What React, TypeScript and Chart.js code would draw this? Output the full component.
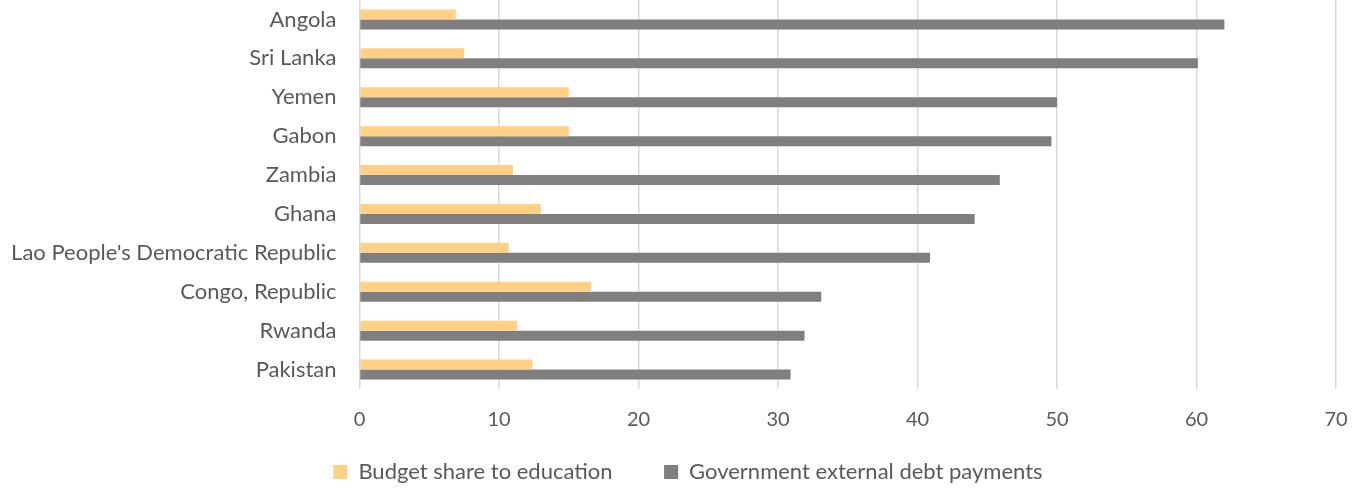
import React, { useEffect, useRef } from "react";
import { Chart, registerables } from "chart.js";

Chart.register(...registerables);

const categories = [
  "Angola",
  "Sri Lanka",
  "Yemen",
  "Gabon",
  "Zambia",
  "Ghana",
  "Lao People's Democratic Republic",
  "Congo, Republic",
  "Rwanda",
  "Pakistan",
];
const educationShare = [6.9, 7.5, 15.0, 15.0, 11.0, 13.0, 10.7, 16.6, 11.3, 12.4];
const debtPayments = [62.0, 60.1, 50.0, 49.6, 45.9, 44.1, 40.9, 33.1, 31.9, 30.9];
const seriesNames = ["Budget share to education", "Government external debt payments"];
const xTicks = { min: 0, max: 70, step: 10 };

const FONT = "Lato, 'Open Sans', sans-serif";
const TEXT = "#595959";
const COLORS = ["#FFD086", "#7F7F7F"];

const legendShift = {
  id: "legendShift",
  afterLayout(chart: any) {
    const lg = chart.legend;
    if (lg) {
      lg.left += 18;
      lg.right += 18;
    }
  },
};

export default function App() {
  const ref = useRef<HTMLCanvasElement | null>(null);
  useEffect(() => {
    if (!ref.current) return;
    const chart = new Chart(ref.current, {
      type: "bar",
      data: {
        labels: categories,
        datasets: seriesNames.map((name, i) => ({
          label: name,
          data: i === 0 ? educationShare : debtPayments,
          backgroundColor: COLORS[i],
          barPercentage: 1,
          categoryPercentage: 0.514,
        })),
      },
      plugins: [legendShift],
      options: {
        indexAxis: "y",
        animation: false,
        responsive: false,
        maintainAspectRatio: false,
        layout: { padding: { top: 0, right: 26, bottom: -5, left: 4 } },
        scales: {
          x: {
            min: xTicks.min,
            max: xTicks.max,
            ticks: {
              stepSize: xTicks.step,
              color: TEXT,
              font: { family: FONT, size: 20 },
              padding: 19,
            },
            grid: { color: "#D9D9D9", lineWidth: 1.5, drawTicks: false },
            border: { display: false },
            afterFit: (s: any) => {
              s.paddingLeft = 0;
              s.paddingRight = 0;
              s.height = 43;
            },
          },
          y: {
            ticks: {
              color: TEXT,
              font: { family: FONT, size: 22 },
              padding: 23,
            },
            grid: { display: false, drawTicks: false },
            border: { display: false },
            afterFit: (s: any) => {
              s.paddingTop = 0;
              s.paddingBottom = 0;
              s.width = 355.5;
            },
          },
        },
        plugins: {
          legend: {
            position: "bottom",
            labels: {
              color: TEXT,
              font: { family: FONT, size: 22 },
              boxWidth: 14,
              boxHeight: 14,
              padding: 29,
              generateLabels: (c: any) => {
                const items = Chart.defaults.plugins.legend.labels.generateLabels(c);
                return items.map((it: any, i: number) => ({
                  ...it,
                  lineWidth: 0,
                  text: i === 0 ? it.text + "    " : it.text,
                }));
              },
            },
          },
          tooltip: { enabled: false },
        },
      },
    });
    return () => chart.destroy();
  }, []);
  return (
    <div style={{ position: "fixed", left: 0, top: 0, width: 1362, height: 488, background: "#fff" }}>
      <canvas ref={ref} width={1362} height={488} />
    </div>
  );
}
